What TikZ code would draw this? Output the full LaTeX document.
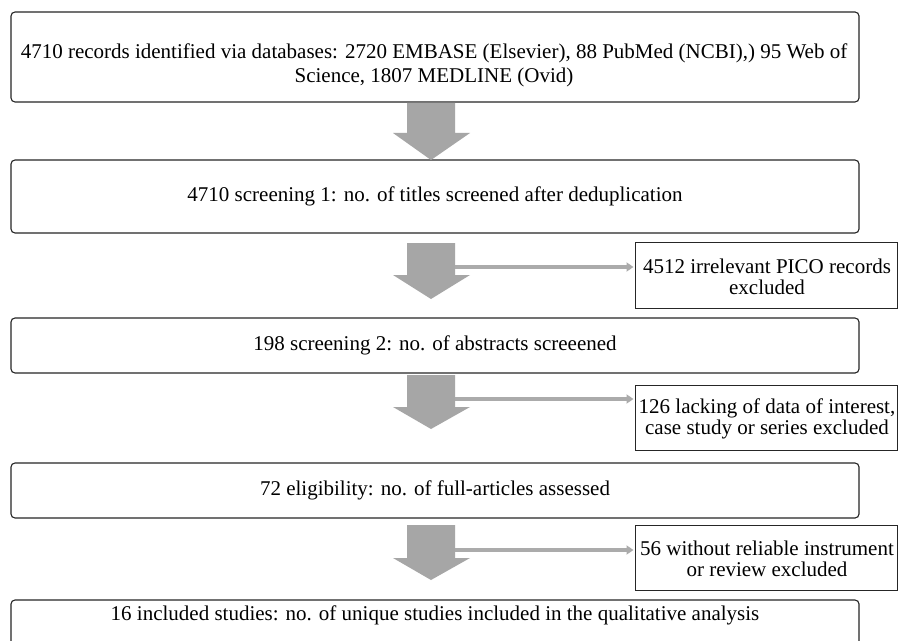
\documentclass[tikz,border=0pt]{standalone}
\usepackage{fontspec}
\setmainfont{Liberation Serif}
\usetikzlibrary{arrows.meta}
\definecolor{arrowgray}{HTML}{A6A6A6}
\definecolor{linegray}{HTML}{ABABAB}
\tikzset{
  mainbox/.style={draw=black!85, line width=1.1bp, rounded corners=4bp, minimum width=848bp, inner sep=0pt},
  sidebox/.style={draw=black!85, line width=1bp, minimum width=262bp, minimum height=65bp, inner sep=0pt},
  txt/.style={font=\fontsize{21bp}{24bp}\selectfont, align=center, inner sep=0pt},
  sidetxt/.style={font=\fontsize{21bp}{21.5bp}\selectfont, align=center, inner sep=0pt},
  bigarrow/.style={fill=arrowgray, draw=none},
  sideline/.style={draw=linegray, line width=4bp, -{Triangle[length=7bp,width=9bp]}, shorten >=1bp}
}
\newcommand{\flowarrow}[4]{% name, top y, head y, tip y
  \fill[bigarrow] (407,#2) -- (455,#2) -- (455,#3) -- (470,#3) -- (431,#4) -- (393,#3) -- (407,#3) -- cycle;
  \coordinate (#1) at (455,#3-8);
}
\begin{document}
\begin{tikzpicture}[x=1bp,y=-1bp]
\clip (0,0) rectangle (898,641);
\fill[white] (0,0) rectangle (898,641);
% main boxes
\node[mainbox, minimum height=90bp] (b1) at (435,57) {};
\node[txt] (t1) at (434,65) {4710 records identified via databases: 2720 EMBASE (Elsevier), 88 PubMed (NCBI),) 95 Web of\\Science, 1807 MEDLINE (Ovid)};
\node[mainbox, minimum height=73bp, txt] (b2) at (435,196.5) {4710 screening 1: no. of titles screened after deduplication};
\node[mainbox, minimum height=55bp, txt] (b3) at (435,345.5) {198 screening 2: no. of abstracts screeened};
\node[mainbox, minimum height=55bp, txt] (b4) at (435,490.5) {72 eligibility: no. of full-articles assessed};
\node[mainbox, minimum height=70bp] (b5) at (435,635) {};
\node[txt] (t5) at (435,615) {16 included studies: no. of unique studies included in the qualitative analysis};
% side boxes
\node[sidebox] (s1) at (766,275.5) {};
\node[sidetxt] (st1) at (767,277) {4512 irrelevant PICO records\\excluded};
\node[sidebox] (s2) at (766,417.5) {};
\node[sidetxt] (st2) at (767,419) {126 lacking of data of interest,\\case study or series excluded};
\node[sidebox] (s3) at (766,557.5) {};
\node[sidetxt] (st3) at (767,559) {56 without reliable instrument\\or review excluded};
% flow arrows
\flowarrow{a1}{103}{133}{160}
\flowarrow{a2}{243}{275}{299}
\flowarrow{a3}{375}{407}{429}
\flowarrow{a4}{525}{558}{580}
% side connectors
\draw[sideline] (a2) -- (a2 -| s1.west);
\draw[sideline] (a3) -- (a3 -| s2.west);
\draw[sideline] (a4) -- (a4 -| s3.west);
\end{tikzpicture}
\end{document}
